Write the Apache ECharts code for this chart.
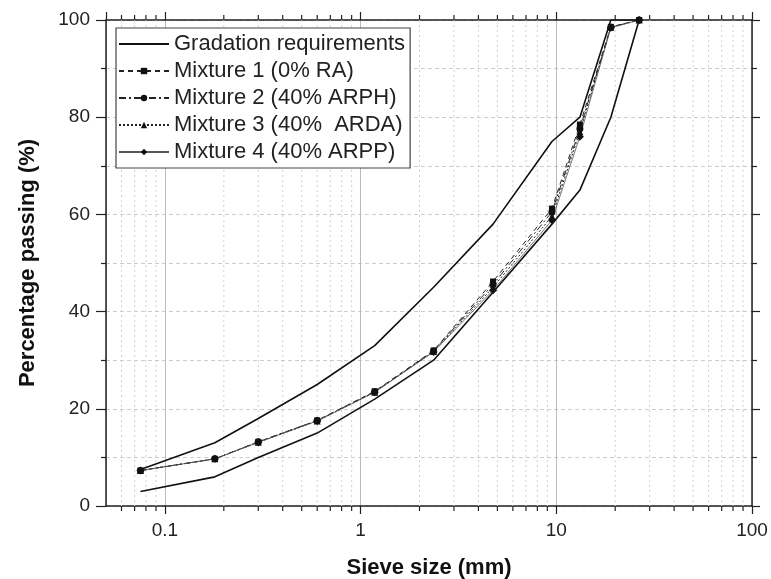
<!DOCTYPE html>
<html style="height: 100%">

<head>
	<meta charset="utf-8">
	<script type="text/javascript" src="https://cdn.jsdelivr.net/npm/echarts@6/dist/echarts.min.js"></script>
</head>

<body style="height: 100%; margin: 0; background: #fff">
	<div id="container" style="width: 771px; height: 579px"></div>
	<script type="text/javascript">
		// sieve sizes (mm)
		let sieves = [0.075, 0.18, 0.3, 0.6, 1.18, 2.36, 4.75, 9.5, 13.2, 19, 26.5];
		// gradation envelope (% passing)
		let upperLimit = [7.5, 13, 18, 25, 33, 45, 58, 75, 80, 100, 100];
		let lowerLimit = [3, 6, 10, 15, 22, 30, 44, 58, 65, 80, 100];
		// mixtures (% passing)
		let mix1 = [7.3, 9.7, 13.2, 17.6, 23.6, 32.0, 46.2, 61.2, 78.5, 98.6, 100];
		let mix2 = [7.3, 9.7, 13.2, 17.6, 23.5, 31.9, 45.6, 60.5, 77.6, 98.5, 100];
		let mix3 = [7.3, 9.7, 13.1, 17.5, 23.4, 31.8, 45.0, 59.6, 77.0, 98.5, 100];
		let mix4 = [7.3, 9.7, 13.1, 17.5, 23.4, 31.7, 44.4, 58.8, 76.0, 98.4, 100];
		// minor log ticks (x axis)
		let minorX = [0.06, 0.07, 0.08, 0.09,
			0.2, 0.3, 0.4, 0.5, 0.6, 0.7, 0.8, 0.9,
			2, 3, 4, 5, 6, 7, 8, 9,
			20, 30, 40, 50, 60, 70, 80, 90];

		let seriesNames = ['Gradation requirements', 'Mixture 1 (0% RA)', 'Mixture 2 (40% ARPH)',
			'Mixture 3 (40%  ARDA)', 'Mixture 4 (40% ARPP)'];

		function pairs(ys) {
			return sieves.map(function (s, i) { return [s, ys[i]]; });
		}

		let font = 'Liberation Sans, Arial, sans-serif';
		let dom = document.getElementById('container');
		let myChart = echarts.init(dom, null, { renderer: 'canvas' });

		function isDecade(v) {
			let l = Math.log10(v);
			return Math.abs(l - Math.round(l)) < 1e-6;
		}

		let axisLineStyle = { color: '#222', width: 1.5 };

		let option = {
			backgroundColor: '#fff',
			animation: false,
			textStyle: { fontFamily: font },
			grid: { left: 106, right: 19, top: 20, bottom: 73, outerBoundsMode: 'none', containLabel: false },
			legend: {
				data: [
					{ name: seriesNames[0], itemStyle: { opacity: 0 } },
					seriesNames[1], seriesNames[2], seriesNames[3], seriesNames[4]
				],
				orient: 'vertical',
				left: 116,
				top: 28,
				itemWidth: 50,
				itemHeight: 8,
				itemGap: 5,
				itemTextGap: 6,
				padding: [5, 5, 5, 2],
				borderColor: '#444',
				borderWidth: 1.2,
				backgroundColor: '#fff',
				borderRadius: 0,
				textStyle: { fontFamily: font, fontSize: 22, color: '#222' }
			},
			xAxis: [
				{
					type: 'log',
					logBase: 10,
					min: 0.05,
					max: 100,
					name: 'Sieve size (mm)',
					nameLocation: 'middle',
					nameGap: 51,
					nameTextStyle: { fontFamily: font, fontSize: 22, fontWeight: 'bold', color: '#111' },
					axisLine: { show: true, onZero: false, lineStyle: axisLineStyle },
					axisTick: { show: true, inside: false, length: 8, lineStyle: { color: '#222', width: 1.2 } },
					axisLabel: {
						fontSize: 19, color: '#222', margin: 15, showMinLabel: false,
						formatter: function (v) { return isDecade(v) ? String(v) : ''; }
					},
					splitLine: { show: true, lineStyle: { color: '#bbb', width: 1 } }
				},
				{
					type: 'log',
					logBase: 10,
					min: 0.05,
					max: 100,
					position: 'top',
					axisLine: { show: true, onZero: false, lineStyle: axisLineStyle },
					axisTick: { show: true, length: 8, lineStyle: { color: '#222', width: 1.2 } },
					axisLabel: { show: false },
					splitLine: { show: false }
				}
			],
			yAxis: [
				{
					type: 'value',
					min: 0,
					max: 100,
					interval: 20,
					name: 'Percentage passing (%)',
					nameLocation: 'middle',
					nameGap: 67,
					nameTextStyle: { fontFamily: font, fontSize: 22, fontWeight: 'bold', color: '#111' },
					axisLine: { show: true, lineStyle: axisLineStyle },
					axisTick: { show: true, length: 10, lineStyle: { color: '#222', width: 1.2 } },
					minorTick: { show: true, splitNumber: 2, length: 5, lineStyle: { color: '#222', width: 1.2 } },
					axisLabel: { fontSize: 19, color: '#222', margin: 16 },
					splitLine: { show: true, lineStyle: { color: '#ccc', type: [4, 3], width: 1 } },
					minorSplitLine: { show: true, lineStyle: { color: '#ccc', type: [4, 3], width: 1 } }
				},
				{
					type: 'value',
					min: 0,
					max: 100,
					interval: 20,
					position: 'right',
					axisLine: { show: true, lineStyle: axisLineStyle },
					axisTick: { show: true, length: 8, lineStyle: { color: '#222', width: 1.2 } },
					minorTick: { show: true, splitNumber: 2, length: 5, lineStyle: { color: '#222', width: 1.2 } },
					axisLabel: { show: false },
					splitLine: { show: false }
				}
			],
			series: [
				{
					// minor vertical grid lines and minor ticks on the log axis
					type: 'custom',
					name: 'minor',
					silent: true,
					z: 1,
					data: minorX.map(function (v) { return [v, 0]; }),
					renderItem: function (params, api) {
						let v = api.value(0);
						let b = api.coord([v, 0]);
						let t = api.coord([v, 100]);
						return {
							type: 'group',
							children: [
								{ type: 'line', shape: { x1: b[0], y1: t[1], x2: b[0], y2: b[1] }, style: { stroke: '#d0d0d0', lineDash: [2, 3], lineWidth: 1 } },
								{ type: 'line', shape: { x1: b[0], y1: b[1], x2: b[0], y2: b[1] + 5 }, style: { stroke: '#222', lineWidth: 1.2 } },
								{ type: 'line', shape: { x1: b[0], y1: t[1], x2: b[0], y2: t[1] - 5 }, style: { stroke: '#222', lineWidth: 1.2 } }
							]
						};
					}
				},
				{
					name: seriesNames[0],
					type: 'line',
					symbol: 'none',
					lineStyle: { color: '#111', width: 1.6 },
					itemStyle: { color: '#111' },
					data: pairs(upperLimit),
					z: 3
				},
				{
					name: seriesNames[0],
					type: 'line',
					symbol: 'none',
					lineStyle: { color: '#111', width: 1.6 },
					itemStyle: { color: '#111' },
					data: pairs(lowerLimit),
					z: 3
				},
				{
					name: seriesNames[1],
					type: 'line',
					symbol: 'rect',
					symbolSize: 6,
					lineStyle: { color: '#222', width: 1, type: [5, 4] },
					itemStyle: { color: '#111' },
					data: pairs(mix1),
					z: 4
				},
				{
					name: seriesNames[2],
					type: 'line',
					symbol: 'circle',
					symbolSize: 7,
					lineStyle: { color: '#222', width: 1, type: [7, 3, 2, 3] },
					itemStyle: { color: '#111' },
					data: pairs(mix2),
					z: 4
				},
				{
					name: seriesNames[3],
					type: 'line',
					symbol: 'triangle',
					symbolSize: 7,
					lineStyle: { color: '#222', width: 1, type: [2, 2] },
					itemStyle: { color: '#111' },
					data: pairs(mix3),
					z: 4
				},
				{
					name: seriesNames[4],
					type: 'line',
					symbol: 'diamond',
					symbolSize: 8,
					lineStyle: { color: '#555', width: 0.8 },
					itemStyle: { color: '#111' },
					data: pairs(mix4),
					z: 4
				}
			]
		};

		myChart.setOption(option);
	</script>
</body>

</html>
